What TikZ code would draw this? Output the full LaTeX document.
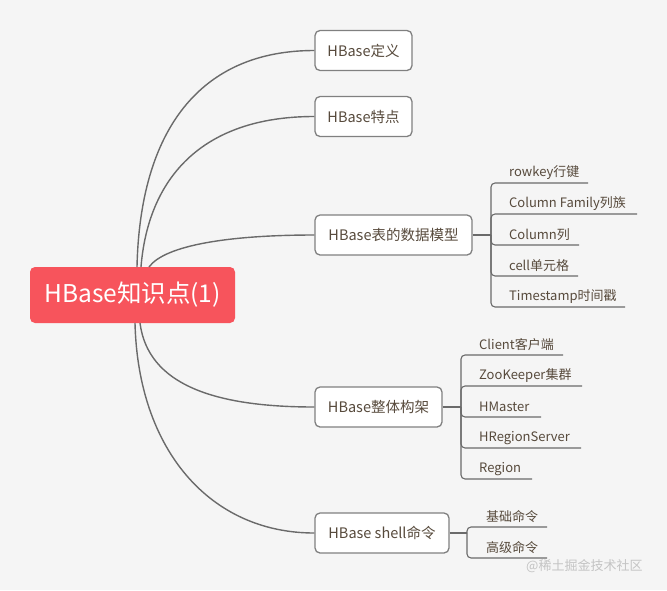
\documentclass[tikz,border=0pt]{standalone}
\usepackage{fontspec}
\setmainfont{Noto Sans CJK SC}
\definecolor{bg}{HTML}{F5F5F5}
\definecolor{rootred}{HTML}{F7545C}
\definecolor{boxline}{HTML}{808080}
\definecolor{conn}{HTML}{6A6A6A}
\definecolor{txt}{HTML}{574A3C}
\definecolor{wm}{HTML}{C4C4C4}
\begin{document}
\begin{tikzpicture}[x=1pt,y=-1pt,
  rootbox/.style={fill=rootred,rounded corners=5pt,text=white,inner sep=0pt,
    minimum width=205pt,minimum height=56pt,font=\fontsize{24.5}{28}\selectfont},
  topicbox/.style={draw=boxline,line width=1.3pt,fill=white,rounded corners=5pt,text=txt,
    inner sep=0pt,minimum height=40pt,font=\fontsize{14.5}{17}\selectfont},
  leaf/.style={anchor=west,inner sep=0pt,text=txt,font=\fontsize{13}{15}\selectfont},
  link/.style={draw=conn,line width=1.4pt},
  under/.style={draw=conn,line width=1.1pt,rounded corners=4pt},
]
\useasboundingbox (0,0) rectangle (667,590);
\fill[bg] (0,0) rectangle (667,590);

% root
\node[rootbox] (root) at (132.5,295) {HBase知识点(1)};

% topics
\node[topicbox,minimum width=97pt] (t1) at (363.5,50.5) {HBase定义};
\node[topicbox,minimum width=97pt] (t2) at (363.5,116.5) {HBase特点};
\node[topicbox,minimum width=157pt] (t3) at (393.5,235) {HBase表的数据模型};
\node[topicbox,minimum width=127pt] (t4) at (378.5,407) {HBase整体构架};
\node[topicbox,minimum width=134pt] (t5) at (382,533) {HBase shell命令};

% root connectors
\coordinate (s1) at (137,267);
\coordinate (s2) at (141,267);
\coordinate (s3) at (149,267);
\coordinate (s4) at (140,323);
\coordinate (s5) at (135,323);
\draw[link] (s1) .. controls (140,130) and (200,50.5) .. (t1.west);
\draw[link] (s2) .. controls (148,180) and (200,116.5) .. (t2.west);
\draw[link] (s3) .. controls (165,245) and (230,235) .. (t3.west);
\draw[link] (s4) .. controls (148,385) and (215,407) .. (t4.west);
\draw[link] (s5) .. controls (138,450) and (210,533) .. (t5.west);

% data model leaves
\coordinate (h3) at (491,235);
\draw[link] (t3.east) -- (h3);
\coordinate (a1) at (588,183);
\coordinate (a2) at (637,214);
\coordinate (a3) at (579,245);
\coordinate (a4) at (578,276);
\coordinate (a5) at (625,307);
\foreach \c in {a1,a2,a3,a4,a5} \draw[under] (h3) |- (\c);
\node[leaf] (l1) at (509,173) {rowkey行键};
\node[leaf] (l2) at (509,204) {Column Family列族};
\node[leaf] (l3) at (509,235) {Column列};
\node[leaf] (l4) at (509,266) {cell单元格};
\node[leaf] (l5) at (509,297) {Timestamp时间戳};

% architecture leaves
\coordinate (h4) at (461,407);
\draw[link] (t4.east) -- (h4);
\coordinate (b1) at (563,355);
\coordinate (b2) at (582,386);
\coordinate (b3) at (541,417);
\coordinate (b4) at (581,448);
\coordinate (b5) at (532,479);
\foreach \c in {b1,b2,b3,b4,b5} \draw[under] (h4) |- (\c);
\node[leaf] (m1) at (479,345) {Client客户端};
\node[leaf] (m2) at (479,376) {ZooKeeper集群};
\node[leaf] (m3) at (479,407) {HMaster};
\node[leaf] (m4) at (479,438) {HRegionServer};
\node[leaf] (m5) at (479,469) {Region};

% shell leaves
\coordinate (h5) at (467,533);
\draw[link] (t5.east) -- (h5);
\coordinate (c1) at (547,527);
\coordinate (c2) at (547,558);
\foreach \c in {c1,c2} \draw[under] (h5) |- (\c);
\node[leaf] (n1) at (486,517) {基础命令};
\node[leaf] (n2) at (486,548) {高级命令};

% watermark
\node[anchor=west,inner sep=0pt,text=wm,font=\fontsize{13}{15}\selectfont] (wmk) at (526,566) {@稀土掘金技术社区};
\end{tikzpicture}
\end{document}
